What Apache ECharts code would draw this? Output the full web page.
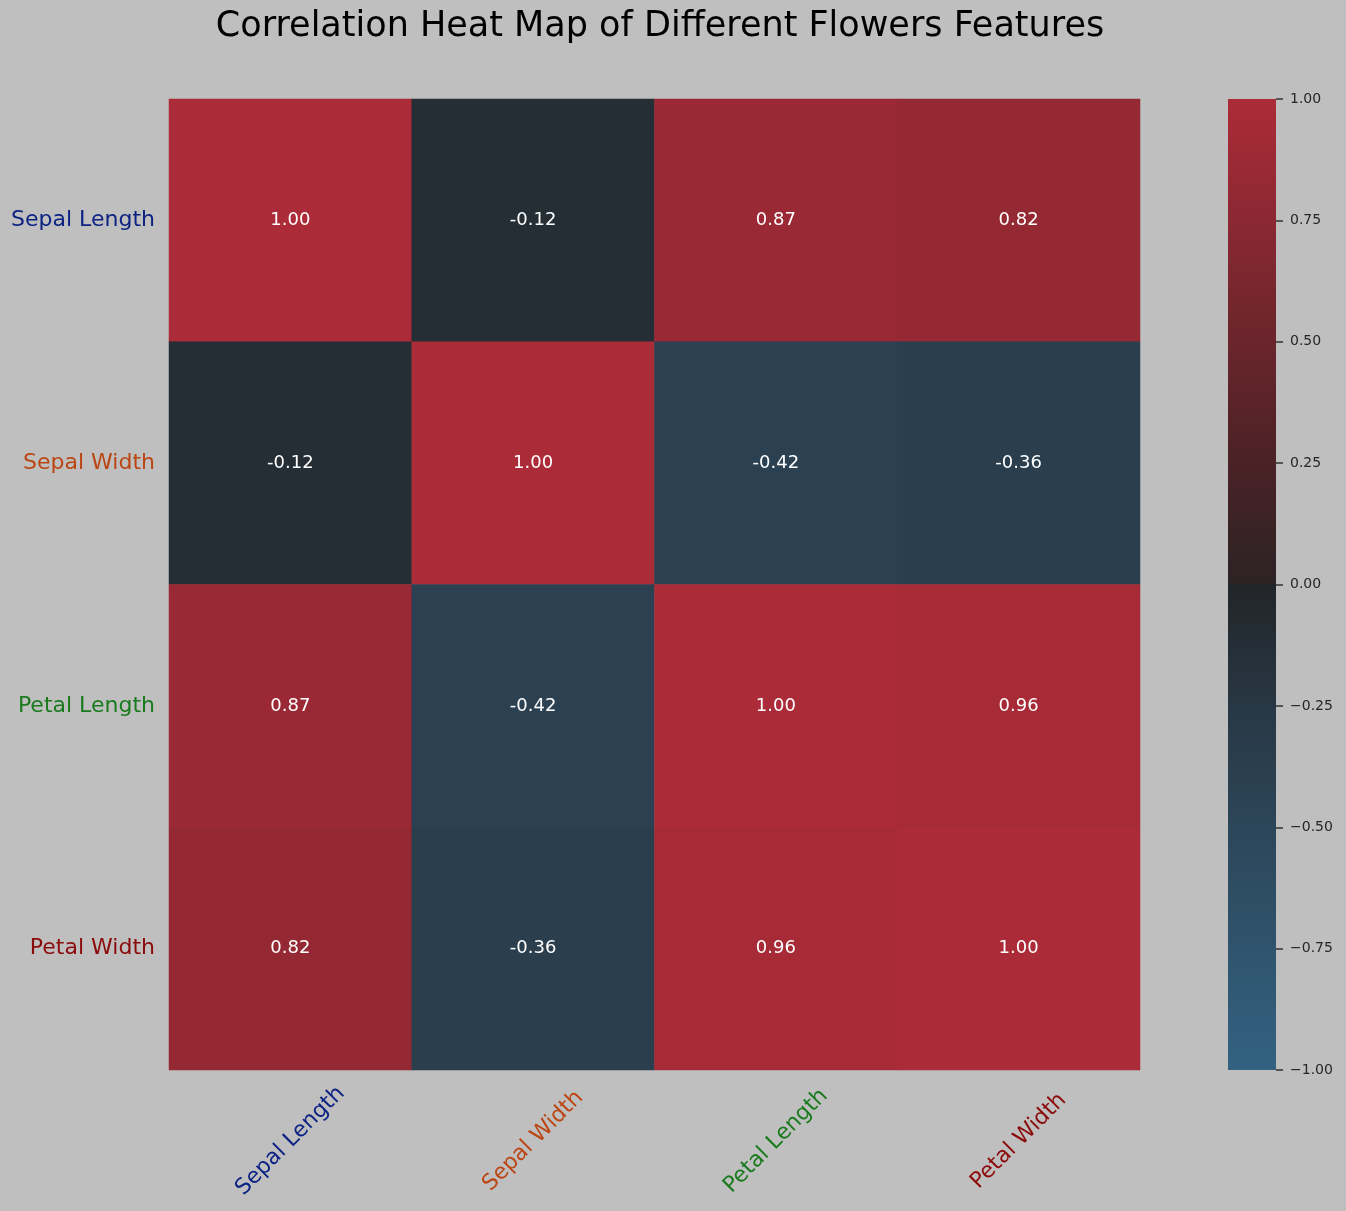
<!DOCTYPE html>
<html>
<head>
<meta charset="utf-8">
<title>Correlation Heat Map</title>
<script src="https://cdn.jsdelivr.net/npm/echarts@6/dist/echarts.min.js"></script>
<style>
    html, body { margin: 0; padding: 0; background: #bfbfbf; }
    #chart { width: 1346px; height: 1211px; }
</style>
</head>
<body>
<div id="chart"></div>
<script>
// features and their label colours
const features = ['Sepal Length', 'Sepal Width', 'Petal Length', 'Petal Width'];
const labelColors = ['#0c2383', '#bb4613', '#1a7a1e', '#8b0b0b'];

// correlation rows
const sepalLength = [1.00, -0.12, 0.87, 0.82];
const sepalWidth = [-0.12, 1.00, -0.42, -0.36];
const petalLength = [0.87, -0.42, 1.00, 0.96];
const petalWidth = [0.82, -0.36, 0.96, 1.00];
const rows = [sepalLength, sepalWidth, petalLength, petalWidth];

// colorbar ticks
const barTicks = [-1, -0.75, -0.5, -0.25, 0, 0.25, 0.5, 0.75, 1];

// diverging palette, -1 .. 1
const negColors = ['#336282', '#2f546d', '#2c4659', '#283744', '#222528'];
const posColors = ['#2c2325', '#4a2226', '#6a252b', '#8b2832', '#ac2b38'];

let cells = [];
rows.forEach(function (row, y) {
    row.forEach(function (v, x) {
        cells.push([x, y, v]);
    });
});

// gradient for the colorbar, top = 1, bottom = -1 (hard step at 0)
let barStops = [];
posColors.slice().reverse().forEach(function (c, i) {
    barStops.push({ offset: i * 0.125, color: c });
});
negColors.slice().reverse().forEach(function (c, i) {
    barStops.push({ offset: 0.5 + i * 0.125, color: c });
});

let myChart = echarts.init(document.getElementById('chart'));
let option = {
    backgroundColor: '#bfbfbf',
    animation: false,
    title: {
        text: 'Correlation Heat Map of Different Flowers Features',
        left: 655,
        top: 4,
        textAlign: 'center',
        textStyle: {
            fontFamily: 'DejaVu Sans',
            fontSize: 35,
            fontWeight: 'normal',
            color: '#000'
        }
    },
    grid: [
        { left: 169, top: 99, width: 971, height: 971 },
        { left: 1228, top: 99, width: 48, height: 971 }
    ],
    xAxis: [{
        type: 'category',
        gridIndex: 0,
        data: features,
        axisLine: { show: false },
        axisTick: { show: false },
        splitLine: { show: false },
        axisLabel: {
            rotate: 45,
            align: 'center',
            verticalAlign: 'middle',
            margin: 71,
            fontFamily: 'DejaVu Sans',
            fontSize: 22,
            color: function (value, index) {
                return labelColors[features.indexOf(value)];
            }
        }
    }, {
        type: 'value',
        gridIndex: 1,
        show: false,
        min: 0,
        max: 1
    }],
    yAxis: [{
        type: 'category',
        gridIndex: 0,
        inverse: true,
        data: features,
        axisLine: { show: false },
        axisTick: { show: false },
        splitLine: { show: false },
        axisLabel: {
            margin: 14,
            fontFamily: 'DejaVu Sans',
            fontSize: 22,
            color: function (value, index) {
                return labelColors[features.indexOf(value)];
            }
        }
    }, {
        type: 'value',
        gridIndex: 1,
        position: 'right',
        z: 10,
        min: barTicks[0],
        max: barTicks[barTicks.length - 1],
        interval: 0.25,
        axisLine: { show: false, onZero: false },
        splitLine: { show: false },
        axisTick: {
            show: true,
            inside: false,
            length: 7,
            lineStyle: { color: '#333', width: 1.5 }
        },
        axisLabel: {
            margin: 14,
            fontFamily: 'DejaVu Sans',
            fontSize: 14,
            color: '#262626',
            formatter: function (v) {
                return (v < 0 ? '\u2212' : '') + Math.abs(v).toFixed(2);
            }
        }
    }],
    visualMap: {
        type: 'continuous',
        show: false,
        min: -1,
        max: 1,
        seriesIndex: 0,
        inRange: {
            color: negColors.concat(posColors.slice(1))
        }
    },
    series: [{
        type: 'heatmap',
        xAxisIndex: 0,
        yAxisIndex: 0,
        data: cells,
        label: {
            show: true,
            fontFamily: 'DejaVu Sans',
            fontSize: 18,
            color: '#fff',
            formatter: function (p) {
                return p.value[2].toFixed(2);
            }
        },
        itemStyle: { borderWidth: 0 }
    }, {
        // colorbar
        type: 'custom',
        xAxisIndex: 1,
        yAxisIndex: 1,
        z: 1,
        data: [[0, barTicks[barTicks.length - 1], 1, barTicks[0]]],
        silent: true,
        renderItem: function (params, api) {
            let p0 = api.coord([api.value(0), api.value(1)]);
            let p1 = api.coord([api.value(2), api.value(3)]);
            return {
                type: 'rect',
                shape: { x: p0[0], y: p0[1], width: p1[0] - p0[0], height: p1[1] - p0[1] },
                style: { fill: new echarts.graphic.LinearGradient(0, 0, 0, 1, barStops) }
            };
        }
    }]
};
myChart.setOption(option);
</script>
</body>
</html>
